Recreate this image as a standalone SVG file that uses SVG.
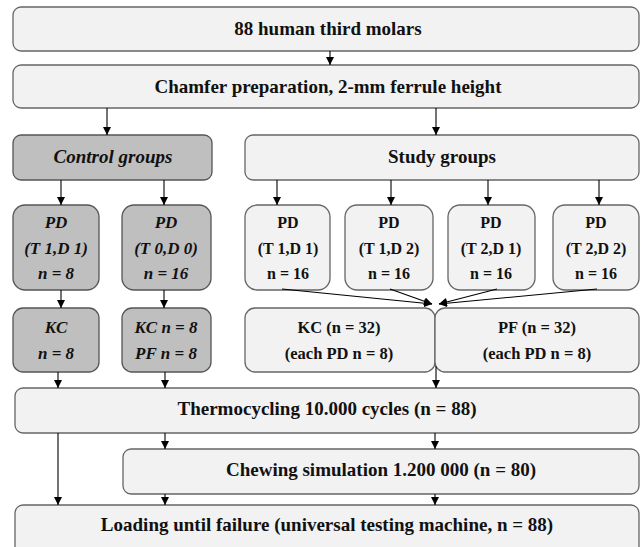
<svg xmlns="http://www.w3.org/2000/svg" width="641" height="547" viewBox="0 0 641 547">
<defs>
<marker id="ah" markerUnits="userSpaceOnUse" markerWidth="9" markerHeight="9" refX="8" refY="4" orient="auto">
<path d="M0,0 L8,4 L0,8 z" fill="#000"/>
</marker>
<style>
.lb{fill:#f2f2f2;stroke:#666;stroke-width:1.3}
.gb{fill:#bfbfbf;stroke:#555;stroke-width:1.3}
text{font-family:"Liberation Serif","Times New Roman",serif;font-weight:bold;fill:#111;text-anchor:middle}
.t19{font-size:19px}
.t17{font-size:17px}
.t165{font-size:16.5px}
.t16{font-size:16px}
.it{font-style:italic}
.c line{stroke:#000;stroke-width:1.1;marker-end:url(#ah)}
</style>
</defs>
<rect width="641" height="547" fill="#fff"/>
<g id="n1"><rect class="lb" x="13" y="7" width="626" height="44" rx="8"/><text class="t19" x="328" y="35">88 human third molars</text></g>
<g id="n2"><rect class="lb" x="13" y="65" width="626" height="43" rx="8"/><text class="t19" x="328" y="93">Chamfer preparation, 2-mm ferrule height</text></g>
<g id="control"><rect class="gb" x="13" y="135" width="199" height="45" rx="8"/><text class="t19 it" x="113" y="163">Control groups</text></g>
<g id="study"><rect class="lb" x="245" y="135" width="394" height="45" rx="8"/><text class="t19" x="442" y="163">Study groups</text></g>
<g id="cpd1"><rect class="gb" x="13" y="205" width="86" height="85" rx="12"/><text class="t17 it" x="56" y="228">PD</text><text class="t17 it" x="56" y="254">(T 1,D 1)</text><text class="t17 it" x="56" y="279">n = 8</text></g>
<g id="cpd2"><rect class="gb" x="122" y="205" width="89" height="85" rx="12"/><text class="t17 it" x="166" y="228">PD</text><text class="t17 it" x="166" y="254">(T 0,D 0)</text><text class="t17 it" x="166" y="279">n = 16</text></g>
<g id="spd1"><rect class="lb" x="245" y="205" width="85" height="85" rx="12"/><text class="t16" x="288" y="228">PD</text><text class="t16" x="288" y="254">(T 1,D 1)</text><text class="t16" x="288" y="279">n = 16</text></g>
<g id="spd2"><rect class="lb" x="345" y="205" width="88" height="85" rx="12"/><text class="t16" x="389" y="228">PD</text><text class="t16" x="389" y="254">(T 1,D 2)</text><text class="t16" x="389" y="279">n = 16</text></g>
<g id="spd3"><rect class="lb" x="448" y="205" width="87" height="85" rx="12"/><text class="t16" x="491" y="228">PD</text><text class="t16" x="491" y="254">(T 2,D 1)</text><text class="t16" x="491" y="279">n = 16</text></g>
<g id="spd4"><rect class="lb" x="553" y="205" width="86" height="85" rx="12"/><text class="t16" x="596" y="228">PD</text><text class="t16" x="596" y="254">(T 2,D 2)</text><text class="t16" x="596" y="279">n = 16</text></g>
<g id="ckc1"><rect class="gb" x="13" y="308" width="86" height="64" rx="10"/><text class="t17 it" x="56" y="333">KC</text><text class="t17 it" x="56" y="359">n = 8</text></g>
<g id="ckc2"><rect class="gb" x="122" y="308" width="89" height="64" rx="10"/><text class="t17 it" x="166" y="333">KC n = 8</text><text class="t17 it" x="166" y="359">PF n = 8</text></g>
<g id="skc"><rect class="lb" x="245" y="308" width="190" height="64" rx="10"/><text class="t165" x="339" y="333">KC (n = 32)</text><text class="t165" x="339" y="359">(each PD n = 8)</text></g>
<g id="spf"><rect class="lb" x="435" y="308" width="204" height="64" rx="10"/><text class="t165" x="537" y="333">PF (n = 32)</text><text class="t165" x="537" y="359">(each PD n = 8)</text></g>
<g id="thermo"><rect class="lb" x="15" y="388" width="624" height="45" rx="8"/><text class="t19" x="327" y="415">Thermocycling 10.000 cycles (n = 88)</text></g>
<g id="chew"><rect class="lb" x="123" y="449" width="516" height="45" rx="8"/><text class="t19" x="381" y="476">Chewing simulation 1.200 000 (n = 80)</text></g>
<g id="load"><rect class="lb" x="15" y="505" width="624" height="52" rx="8"/><text class="t19" x="327" y="531">Loading until failure (universal testing machine, n = 88)</text></g>
<g id="connectors" class="c">
<line x1="330" y1="51" x2="330" y2="65"/>
<line x1="107" y1="108" x2="107" y2="135"/>
<line x1="436" y1="108" x2="436" y2="135"/>
<line x1="61" y1="180" x2="61" y2="205"/>
<line x1="164" y1="180" x2="164" y2="205"/>
<line x1="277" y1="180" x2="277" y2="205"/>
<line x1="391" y1="180" x2="391" y2="205"/>
<line x1="488" y1="180" x2="488" y2="205"/>
<line x1="599" y1="180" x2="599" y2="205"/>
<line x1="61" y1="290" x2="61" y2="308"/>
<line x1="164" y1="290" x2="164" y2="308"/>
<line x1="282" y1="289" x2="432" y2="304"/>
<line x1="390" y1="289" x2="432" y2="304"/>
<line x1="497" y1="289" x2="439" y2="304"/>
<line x1="597" y1="289" x2="439" y2="304"/>
<line x1="58" y1="372" x2="58" y2="388"/>
<line x1="165" y1="372" x2="165" y2="388"/>
<line x1="436" y1="366" x2="436" y2="388"/>
<line x1="165" y1="433" x2="165" y2="449"/>
<line x1="435" y1="433" x2="435" y2="449"/>
<line x1="58" y1="433" x2="58" y2="505"/>
<line x1="165" y1="494" x2="165" y2="505"/>
<line x1="435" y1="494" x2="435" y2="505"/>
</g>
</svg>
